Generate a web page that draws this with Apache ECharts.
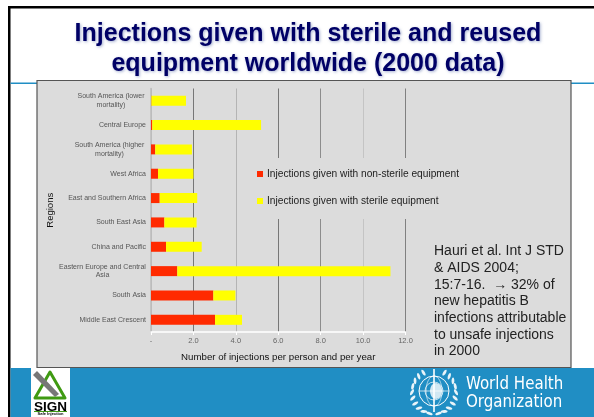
<!DOCTYPE html>
<html>
<head>
<meta charset="utf-8">
<script src="https://cdn.jsdelivr.net/npm/echarts@6/dist/echarts.min.js"></script>
<style>html,body{margin:0;padding:0;background:#fff}#c{width:594px;height:417px}</style>
</head>
<body>
<div id="c"></div>
<script>
const categories = ['South America (lower\nmortality)','Central Europe','South America (higher\nmortality)','West Africa','East and Southern Africa','South East Asia','China and Pacific','Eastern Europe and Central\nAsia','South Asia','Middle East Crescent'];
const nonSterile = [0.02,0.06,0.2,0.33,0.41,0.63,0.71,1.24,2.94,3.02];
const sterile = [1.63,5.13,1.73,1.67,1.77,1.52,1.68,10.05,1.04,1.27];
const xTickLabels = ['-','2.0','4.0','6.0','8.0','10.0','12.0'];
const gridColors = ['#bcbcbc','#777777','#b4b4b4','#777777','#8c8c8c','#c4c4c4','#808080'];
const titleText = 'Injections given with sterile and reused\nequipment worldwide (2000 data)';
const noteText = 'Hauri et al. Int J STD\n& AIDS 2004;\n15:7-16.  \u2192 32% of\nnew hepatitis B\ninfections attributable\nto unsafe injections\nin 2000';
const BLUE = '#208ec4';
const FONT = '"Liberation Sans", Arial, sans-serif';
const COND = '"DejaVu Sans Condensed","DejaVu Sans",sans-serif';

const chart = echarts.init(document.getElementById('c'), null, {renderer:'canvas'});
const wreath = [];
for (let i = 0; i < 10; i++) {
  const a = (12 + i * 15.5) * Math.PI / 180;
  [-1, 1].forEach(s => wreath.push({
    type:'ellipse', z:5,
    x:434 + s * 22 * Math.sin(a), y:392 + 22 * Math.cos(a),
    rotation:-s * (a - 0.5),
    shape:{cx:0, cy:0, rx:3.4, ry:1.4},
    style:{fill:'#fff', opacity:0.9}
  }));
}
chart.setOption({
  animation:false,
  backgroundColor:'#fff',
  title:{
    text:titleText, left:303, top:14, textAlign:'center',
    textStyle:{fontFamily:FONT,fontSize:25,fontWeight:'bold',color:'#000066',lineHeight:30,
      textShadowColor:'rgba(90,110,170,0.55)',textShadowBlur:3,textShadowOffsetX:1,textShadowOffsetY:1}
  },
  grid:{left:151,right:188.5,top:88.5,height:243.5,containLabel:false},
  legend:{
    orient:'vertical', left:252, top:158, width:225, height:58,
    padding:[11,20,13,5], itemGap:17, itemWidth:6, itemHeight:6, icon:'rect',
    selectedMode:false, backgroundColor:'#dcdcdc', z:4,
    textStyle:{fontFamily:FONT,fontSize:10.2,color:'#222',padding:[0,0,0,-1]},
    data:['Injections given with non-sterile equipment','Injections given with sterile equipment']
  },
  xAxis:{
    type:'value',min:0,max:12,interval:2,
    name:'Number of injections per person and per year',nameLocation:'center',nameGap:20,
    nameTextStyle:{fontFamily:FONT,fontSize:9.7,color:'#111'},
    axisLine:{show:true,lineStyle:{color:'#fff',width:1.5}},
    axisTick:{show:true,length:3,lineStyle:{color:'#fff',width:1}},
    axisLabel:{fontFamily:FONT,fontSize:7.5,color:'#666',margin:5,formatter:(v,i)=>xTickLabels[i]},
    splitLine:{show:true,lineStyle:{color:gridColors,width:1}}
  },
  yAxis:{
    type:'category',inverse:true,data:categories,
    name:'Regions',nameLocation:'center',nameGap:96,nameRotate:90,
    nameTextStyle:{fontFamily:FONT,fontSize:9.5,color:'#111'},
    axisLine:{show:true,lineStyle:{color:'#bcbcbc',width:1.5}},
    axisTick:{show:false},
    axisLabel:{fontFamily:FONT,fontSize:7,color:'#555',margin:5,lineHeight:8.5,
      formatter:v=>{
        const p=v.split('\n');
        if(p.length<2) return v;
        const k=p[0].indexOf('lower')>=0?'a':(p[0].indexOf('higher')>=0?'b':'c');
        return '{'+k+'|'+p[0]+'}\n{'+k+'|'+p[1]+'}';
      },
      rich:{
        a:{width:70,align:'center',fontSize:7,color:'#555',fontFamily:FONT,lineHeight:8.5},
        b:{width:73,align:'center',fontSize:7,color:'#555',fontFamily:FONT,lineHeight:8.5},
        c:{width:87,align:'center',fontSize:7,color:'#555',fontFamily:FONT,lineHeight:8.5}
      }
    }
  },
  series:[
    {name:'Injections given with non-sterile equipment',type:'bar',stack:'t',barWidth:10,data:nonSterile,itemStyle:{color:'#ff2a00'}},
    {name:'Injections given with sterile equipment',type:'bar',stack:'t',barWidth:10,data:sterile,itemStyle:{color:'#ffff00'}}
  ],
  graphic:[{type:'group',silent:true,z:-1,children:[
    {type:'rect',shape:{x:8,y:6,width:586,height:2.5},style:{fill:'#000'}},
    {type:'rect',shape:{x:8,y:6,width:2.5,height:411},style:{fill:'#000'}},
    {type:'rect',shape:{x:10.5,y:82.5,width:584,height:1.5},style:{fill:BLUE}},
    {type:'rect',shape:{x:10.5,y:368,width:584,height:49},style:{fill:BLUE}},
    {type:'rect',shape:{x:37,y:80.5,width:534,height:287},style:{fill:'#dcdcdc',stroke:'#555',lineWidth:1.2}}
  ]},{type:'group',silent:true,z:6,children:[
    {type:'text',x:434,y:243,style:{text:noteText,fontFamily:FONT,fontSize:14,lineHeight:16.7,fill:'#222'}},
    {type:'rect',shape:{x:31,y:368,width:39,height:49},style:{fill:'#fff'}},
    {type:'polygon',shape:{points:[[50,372],[65,398],[35,398]]},style:{fill:'#fff',stroke:'#3f9a12',lineWidth:3,lineJoin:'round'}},
    {type:'polygon',shape:{points:[[33,375],[37,371],[59,394],[55,397]]},style:{fill:'#777'}},
    {type:'text',x:50.5,y:400,style:{text:'SIGN',fontFamily:FONT,fontSize:13.5,fontWeight:'bold',fill:'#000',align:'center'}},
    {type:'rect',shape:{x:34,y:411,width:33,height:1},style:{fill:'#3f9a12'}},
    {type:'text',x:50.5,y:412,style:{text:'Safe Injection',fontFamily:FONT,fontSize:4,fontWeight:'bold',fill:'#000',align:'center'}},
    {type:'circle',shape:{cx:434,cy:391,r:15},style:{fill:'none',stroke:'#fff',lineWidth:1}},
    {type:'circle',shape:{cx:434,cy:391,r:9},style:{fill:'none',stroke:'#fff',lineWidth:0.7}},
    {type:'ellipse',shape:{cx:434,cy:391,rx:8,ry:15},style:{fill:'none',stroke:'#fff',lineWidth:0.6}},
    {type:'line',shape:{x1:419,y1:391,x2:449,y2:391},style:{stroke:'#fff',lineWidth:0.7}},
    {type:'ellipse',shape:{cx:436,cy:391,rx:6,ry:8},style:{fill:'#fff',opacity:0.8}},
    {type:'line',shape:{x1:434,y1:369,x2:434,y2:412},style:{stroke:'#fff',lineWidth:1.6}},
    {type:'text',x:466,y:375,scaleX:0.93,style:{text:'World Health',fontFamily:COND,fontSize:18,fill:'#fff'}},
    {type:'text',x:466,y:393,scaleX:0.93,style:{text:'Organization',fontFamily:COND,fontSize:18,fill:'#fff'}}
  ]},{type:'group',silent:true,z:5,children:wreath}]
});
</script>
</body>
</html>
